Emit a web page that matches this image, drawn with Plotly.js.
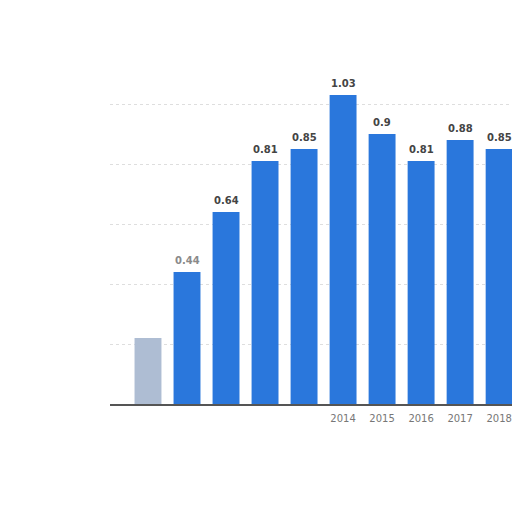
<!DOCTYPE html>
<html>
<head>
<meta charset="utf-8">
<script src="https://cdn.plot.ly/plotly-3.0.1.min.js"></script>
<style>html,body{margin:0;padding:0;background:#fff;}#chart{width:512px;height:512px;}</style>
</head>
<body>
<div id="chart"></div>
<script>
var years = ['2009','2010','2011','2012','2013','2014','2015','2016','2017','2018'];
var values = [0.22, 0.44, 0.64, 0.81, 0.85, 1.03, 0.9, 0.81, 0.88, 0.85];
var labels = ['', '0.44', '0.64', '0.81', '0.85', '1.03', '0.9', '0.81', '0.88', '0.85'];
var tickLabels = ['', '', '', '', '', '2014', '2015', '2016', '2017', '2018'];

var colors = values.map(function(v, i){ return i === 0 ? '#aebdd3' : '#2a77dc'; });
var labelColors = values.map(function(v, i){ return i === 1 ? '#8a8a8a' : '#444444'; });

var trace = {
  type: 'bar',
  x: years.map(function(y, i){ return i; }),
  y: values,
  marker: {color: colors},
  hoverinfo: 'none'
};

var annotations = values.map(function(v, i){
  return {
    x: i, y: v, xref: 'x', yref: 'y',
    text: labels[i],
    showarrow: false,
    yanchor: 'bottom',
    yshift: 4,
    font: {family: 'DejaVu Sans, Arial, sans-serif', size: 10, color: labelColors[i], weight: 'bold'}
  };
});

var layout = {
  width: 512, height: 512,
  margin: {l: 110, r: 0, t: 44, b: 108, pad: 0},
  paper_bgcolor: '#ffffff',
  plot_bgcolor: '#ffffff',
  bargap: 0.31,
  showlegend: false,
  annotations: annotations,
  xaxis: {
    range: [-0.974, 9.33],
    tickmode: 'array',
    tickvals: years.map(function(y, i){ return i; }),
    ticktext: tickLabels,
    tickfont: {family: 'DejaVu Sans, Arial, sans-serif', size: 10, color: '#777777'},
    ticklabelstandoff: 4,
    showgrid: false,
    zeroline: false,
    showline: true,
    linecolor: '#555555',
    linewidth: 1.5,
    ticks: '',
    fixedrange: true
  },
  yaxis: {
    range: [0, 1.2],
    dtick: 0.2,
    showticklabels: false,
    showgrid: true,
    gridcolor: '#dedede',
    griddash: 'dot',
    gridwidth: 1,
    zeroline: false,
    ticks: '',
    fixedrange: true
  }
};

Plotly.newPlot('chart', [trace], layout, {staticPlot: true, displayModeBar: false});
</script>
</body>
</html>
